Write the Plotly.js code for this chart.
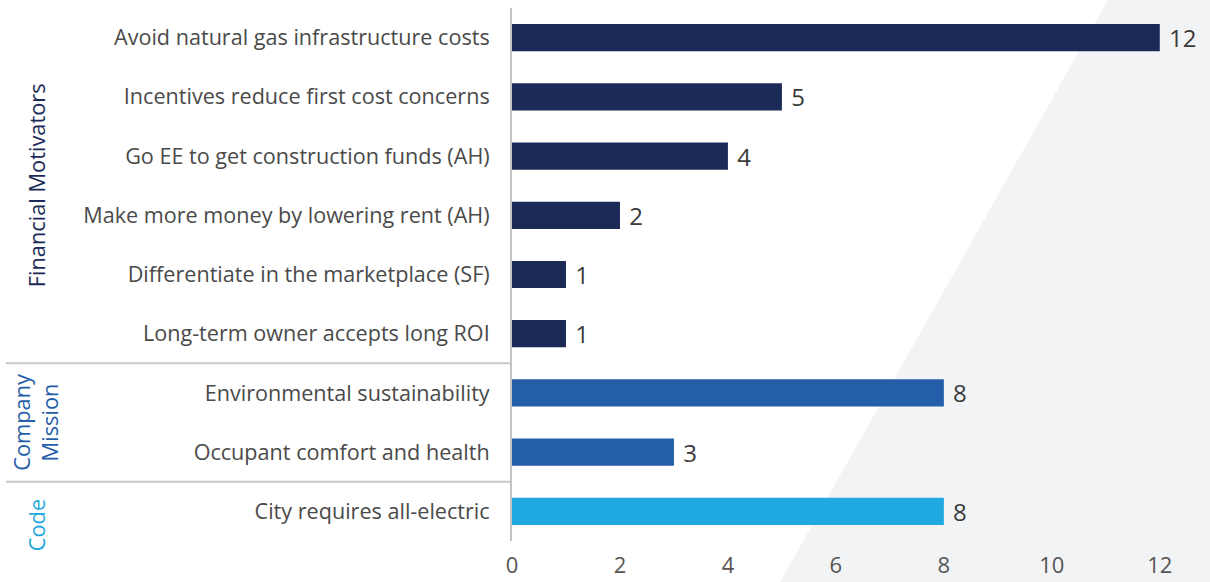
<!DOCTYPE html>
<html><head><meta charset="utf-8">
<script src="https://cdn.plot.ly/plotly-3.0.1.min.js"></script>
<style>html,body{margin:0;padding:0;background:#fff;overflow:hidden}#chart{width:1210px;height:582px}</style>
</head><body><div id="chart"></div>
<script>
const categories = [
  "Avoid natural gas infrastructure costs",
  "Incentives reduce first cost concerns",
  "Go EE to get construction funds (AH)",
  "Make more money by lowering rent (AH)",
  "Differentiate in the marketplace (SF)",
  "Long-term owner accepts long ROI",
  "Environmental sustainability",
  "Occupant comfort and health",
  "City requires all-electric"
];
const counts = [12, 5, 4, 2, 1, 1, 8, 3, 8];
const groups = ["Financial","Financial","Financial","Financial","Financial","Financial","Mission","Mission","Code"];
const groupColors = {Financial:"#1c2a58", Mission:"#255ea8", Code:"#1fa9e0"};
const xTicks = [0, 2, 4, 6, 8, 10, 12];

const font = "'Open Sans', sans-serif";

const trace = {
  type: "bar",
  orientation: "h",
  y: categories,
  x: counts,
  width: 0.46,
  marker: {color: groups.map(g => groupColors[g])},
  texttemplate: " %{x}",
  textposition: "outside",
  constraintext: "none",
  cliponaxis: false,
  textfont: {family: font, size: 24, color: "#3a3a3a"},
  hoverinfo: "x+y"
};

const layout = {
  width: 1210, height: 582,
  margin: {l: 512, r: 0, t: 8, b: 41, autoexpand: false},
  paper_bgcolor: "rgba(0,0,0,0)",
  plot_bgcolor: "rgba(0,0,0,0)",
  showlegend: false,
  xaxis: {
    range: [0, 12.93],
    tickvals: xTicks,
    automargin: false,
    showgrid: false, zeroline: false, showline: false,
    ticks: "",
    ticklabelstandoff: 9,
    tickfont: {family: font, size: 22, color: "#555"}
  },
  yaxis: {
    range: [8.5, -0.5],
    automargin: false,
    showgrid: false, zeroline: false,
    showline: true, linecolor: "#c4c4c4", linewidth: 2,
    ticks: "",
    ticklabelstandoff: 16,
    tickfont: {family: font, size: 21.6, color: "#4a4a4a"}
  },
  shapes: [
    {type: "path", xref: "paper", yref: "paper", layer: "below",
     path: "M 0.854 1.016 L 1.0 1.016 L 1.0 -0.077 L 0.384 -0.077 Z",
     fillcolor: "#f2f3f5", line: {width: 0}},
    {type: "line", xref: "paper", yref: "y", x0: -0.725, x1: -0.003, y0: 5.5, y1: 5.5,
     line: {color: "#c8c8c8", width: 2}},
    {type: "line", xref: "paper", yref: "y", x0: -0.725, x1: -0.003, y0: 7.5, y1: 7.5,
     line: {color: "#c8c8c8", width: 2}}
  ],
  annotations: [
    {text: "Financial Motivators", xref: "paper", yref: "y", x: -0.681, y: 2.5,
     textangle: -90, showarrow: false, xanchor: "center", yanchor: "middle",
     font: {family: font, size: 21.8, color: "#1c2a58"}},
    {text: "Company<br>Mission", xref: "paper", yref: "y", x: -0.683, y: 6.5,
     textangle: -90, showarrow: false, xanchor: "center", yanchor: "middle",
     font: {family: font, size: 21.8, color: "#255ea8"}},
    {text: "Code", xref: "paper", yref: "y", x: -0.681, y: 8.24,
     textangle: -90, showarrow: false, xanchor: "center", yanchor: "middle",
     font: {family: font, size: 21.8, color: "#1fa9e0"}}
  ]
};

Plotly.newPlot("chart", [trace], layout, {displayModeBar: false, staticPlot: true});
</script>
</body></html>
